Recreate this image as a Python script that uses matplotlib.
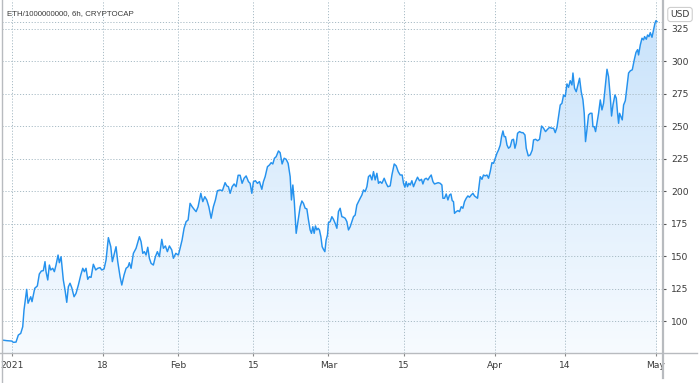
import numpy as np
import pandas as pd
import matplotlib
matplotlib.use("Agg")
import matplotlib.pyplot as plt
import matplotlib.dates as mdates
from matplotlib.colors import LinearSegmentedColormap
from matplotlib.lines import Line2D

# ---------------- data ----------------
title = "ETH/1000000000, 6h, CRYPTOCAP"
currency = "USD"
start_date = "2021-01-01"

day_offsets = [
    -1.86, -0.93, 0.00, 0.30, 0.80, 1.23, 1.68, 2.05, 2.29, 2.79, 3.04, 3.54, 3.78, 4.29, 4.77, 5.14,
    5.52, 5.89, 6.20, 6.39, 6.71, 7.01, 7.27, 7.64, 7.94, 8.25, 8.63, 8.87, 9.19, 9.61, 9.93, 10.25,
    10.55, 10.86, 11.18, 11.61, 11.98, 12.41, 12.86, 13.23, 13.53, 13.84, 14.16, 14.46, 14.78, 15.20,
    15.65, 16.02, 16.45, 16.77, 17.20, 17.57, 18.00, 18.45, 18.74, 19.12, 19.43, 19.75, 20.18, 20.50,
    20.92, 21.30, 21.67, 21.91, 22.23, 22.66, 23.16, 23.78,
    24.09, 24.41, 24.71, 25.02, 25.34, 25.64, 25.96, 26.38, 26.76, 27.13, 27.50, 27.95, 28.25, 28.62,
    28.99, 29.37, 29.81, 30.11, 30.56, 31.04, 31.36, 31.73, 32.10, 32.48, 32.85, 33.22, 33.60, 33.97,
    34.34, 34.71, 35.22, 35.59, 35.96, 36.33, 36.71, 37.14, 37.56, 37.94, 38.31, 38.81, 39.24, 39.74,
    40.06, 40.36, 40.68, 41.05, 41.42, 41.79, 42.17, 42.54, 42.91, 43.28, 43.66, 44.09, 44.40, 44.72,
    45.02, 45.39, 45.76, 46.14, 46.58,
    46.88, 47.20, 47.63, 48.00, 48.32, 48.63, 48.93, 49.25, 49.68, 49.99, 50.36, 50.74, 51.11, 51.48,
    51.86, 52.10, 52.36, 52.61, 52.98, 53.35, 53.72, 54.04, 54.33, 54.65, 54.97, 55.27, 55.58, 55.83,
    56.08, 56.33, 56.57, 56.83, 57.07, 57.31, 57.58, 57.82, 58.06, 58.32, 58.56, 58.81, 58.99, 59.31,
    59.63, 59.92, 60.24, 60.56, 60.85, 61.17, 61.49, 61.79, 62.10, 62.42, 62.72, 63.04, 63.35, 63.65,
    63.97, 64.28, 64.58, 64.90, 65.22, 65.52, 65.83, 66.15, 66.44, 66.76, 67.08, 67.38, 67.69, 68.01,
    68.31, 68.62, 68.94, 69.37, 69.74, 70.06,
    70.49, 70.81, 71.24, 71.61, 71.98, 72.35, 72.72, 72.97, 73.23, 73.47, 73.71, 73.97, 74.22, 74.53,
    74.83, 75.20, 75.58, 75.95, 76.32, 76.58, 76.88, 77.20, 77.52, 77.81, 78.13, 78.45, 78.74, 79.06,
    79.43, 79.80, 80.12, 80.31, 80.61, 80.92, 81.24, 81.54, 81.80, 82.04, 82.28, 82.47, 82.79, 83.10,
    83.40, 83.72, 84.03, 84.33, 84.65, 84.96, 85.26, 85.58, 85.90, 86.19, 86.51, 86.76, 87.02, 87.26,
    87.58, 87.87, 88.19, 88.51, 88.81, 89.12, 89.44, 89.74, 90.05, 90.37, 90.67, 90.99, 91.23, 91.49,
    91.73, 91.97, 92.24, 92.53, 92.85, 93.17, 93.46, 93.72, 93.97, 94.21, 94.58, 94.96,
    95.22, 95.59, 95.83, 96.21, 96.58, 96.95, 97.19, 97.57, 97.94, 98.31, 98.68, 99.05, 99.42, 99.80,
    100.17, 100.54, 100.92, 101.23, 101.55, 101.85, 102.16, 102.48, 102.78, 103.09, 103.41, 103.71,
    104.02, 104.34, 104.53, 104.82, 105.14, 105.46, 105.76, 106.07, 106.39, 106.63, 106.87, 107.13,
    107.43, 107.75, 108.07, 108.25, 108.50, 108.74, 109.00, 109.30, 109.62, 109.93, 110.23, 110.55,
    110.87, 111.16, 111.48, 111.72, 111.98, 112.35, 112.60, 112.84, 113.03, 113.21, 113.47, 113.71,
    113.96, 114.28, 114.59, 114.89, 115.21, 115.58, 115.95, 116.27, 116.57, 116.75, 117.07, 117.39,
    117.68, 117.87, 118.19, 118.43, 118.69, 118.93, 119.25, 119.54, 119.80, 119.99, 120.18,
]

values = [
    85.6, 85.1, 84.8, 83.8, 84.0, 89.4, 90.7, 95.8, 108.7, 124.6, 113.9, 118.9, 115.1, 125.4, 127.2, 136.4,
    138.7, 139.0, 145.9, 138.2, 131.8, 143.3, 139.5, 140.8, 138.2, 143.3, 151.0, 145.1, 149.7, 131.8, 124.1, 114.6,
    126.6, 129.3, 125.9, 118.9, 121.5, 127.9, 135.6, 140.8, 138.2, 140.8, 132.3, 134.3, 133.8, 143.9,
    139.5, 140.8, 141.3, 139.5, 140.3, 147.2, 164.4, 157.4, 145.9, 152.3, 157.4, 145.9, 134.3, 127.9,
    135.6, 140.8, 142.0, 145.1, 140.8, 152.3, 156.2, 165.1,
    161.3, 152.3, 153.6, 151.0, 157.0, 148.5, 144.6, 143.3, 149.7, 153.6, 149.7, 163.1, 156.2, 158.0,
    153.6, 158.0, 154.9, 148.5, 152.3, 151.0, 156.2, 162.6, 171.6, 176.7, 178.0, 190.8, 188.2, 186.2,
    184.4, 188.2, 198.5, 192.1, 195.9, 193.4, 188.2, 179.3, 188.2, 193.4, 200.5, 201.1, 200.5, 206.7,
    204.2, 203.6, 198.5, 203.6, 205.7, 203.6, 212.4, 212.4, 206.2, 210.1, 211.9, 207.5, 206.2, 198.5,
    207.5, 208.2, 206.2, 207.5, 201.6,
    207.5, 211.3, 219.0, 220.3, 222.1, 221.1, 225.5, 226.7, 231.1, 229.8, 221.1, 225.5, 224.7, 221.6,
    211.3, 193.4, 204.9, 193.4, 167.7, 178.0, 188.2, 192.6, 190.8, 187.0, 186.5, 178.0, 170.3, 167.7,
    172.8, 167.7, 173.4, 170.3, 171.6, 170.3, 165.1, 157.4, 155.4, 153.6, 162.6, 166.4, 175.9, 176.7,
    180.5, 178.5, 175.4, 171.6, 184.4, 187.0, 180.5, 180.1, 179.3, 176.7, 170.3, 172.8, 176.7, 180.5,
    181.8, 189.5, 192.1, 194.7, 197.2, 201.1, 199.8, 203.6, 211.3, 212.6, 208.8, 215.2, 208.8, 213.9,
    206.2, 207.5, 206.2, 210.1, 206.2, 203.6,
    204.2, 212.6, 221.1, 219.6, 215.2, 212.6, 212.6, 206.2, 203.2, 207.5, 203.6, 206.2, 204.9, 208.2,
    203.6, 207.5, 210.9, 208.2, 209.3, 205.7, 209.3, 210.1, 208.8, 210.9, 212.6, 207.5, 205.7, 206.2,
    206.7, 206.2, 204.9, 194.7, 194.7, 198.0, 193.4, 197.2, 198.0, 192.9, 192.1, 183.1, 184.4, 185.2,
    184.4, 188.2, 187.0, 192.1, 194.7, 196.5, 195.5, 197.2, 198.5, 196.5, 195.5, 194.7, 203.6, 211.3,
    209.3, 212.6, 211.9, 212.6, 210.1, 215.2, 222.1, 221.6, 225.5, 229.3, 231.9, 235.7, 242.1, 246.5,
    242.1, 242.1, 235.7, 233.2, 234.4, 239.6, 240.1, 233.2, 237.0, 244.7, 246.0, 245.2,
    245.2, 243.4, 233.2, 227.3, 228.1, 231.9, 239.6, 240.1, 239.0, 240.1, 250.3, 248.6, 246.0, 247.8,
    249.3, 248.6, 248.6, 245.2, 249.3, 257.5, 266.5, 267.8, 274.2, 272.9, 282.7, 280.1,
    285.2, 281.9, 291.1, 279.4, 276.7, 281.9, 287.1, 276.7, 270.4, 260.1, 238.3, 247.3,
    258.8, 260.1, 260.1, 249.8, 249.8, 246.0, 252.4, 260.1, 270.4, 262.7, 267.8, 280.7,
    294.0, 288.3, 272.9, 258.0, 266.5, 274.2, 271.7, 260.1, 252.4, 260.1, 257.5, 255.0,
    266.5, 269.8, 280.7, 291.1, 292.8, 293.6, 301.3, 307.0, 309.1, 305.0, 312.7, 317.9,
    316.6, 319.1, 317.1, 320.4, 319.1, 322.2, 318.6, 324.2, 329.4, 331.4, 330.6,
]

tick_dates = ["2021-01-01", "2021-01-18", "2021-02-01", "2021-02-15", "2021-03-01",
              "2021-03-15", "2021-04-01", "2021-04-14", "2021-05-01"]
tick_labels = ["2021", "18", "Feb", "15", "Mar", "15", "Apr", "14", "May"]
y_ticks = [100, 125, 150, 175, 200, 225, 250, 275, 300, 325]

# ---------------- style ----------------
LINE = "#2592ee"
GRID = "#a9bcc6"
TXT = "#3a3a3a"
FRAME = "#b8bbbf"

t0 = mdates.date2num(pd.Timestamp(start_date))
x = t0 + np.array(day_offsets)
y = np.array(values)
xt = [mdates.date2num(pd.Timestamp(d)) for d in tick_dates]

W, H = 700, 383
fig = plt.figure(figsize=(W / 100, H / 100), dpi=100)
ax = fig.add_axes([2 / W, 30 / H, 661 / W, 353 / H])

x0, x1 = t0 - 1.81, t0 + 121.3
y0, y1 = 75.6, 347.3
ax.set_xlim(x0, x1)
ax.set_ylim(y0, y1)

# gradient area
cmap = LinearSegmentedColormap.from_list("area", ["#f7fbff", "#c9e3fb"])
grad = np.linspace(0, 1, 256).reshape(-1, 1)
im = ax.imshow(grad, extent=[x0, x1, y0, y.max()], origin="lower", aspect="auto",
               cmap=cmap, zorder=1, interpolation="bilinear")
poly = ax.fill_between(x, y, y0, facecolor="none", edgecolor="none")
im.set_clip_path(poly.get_paths()[0], transform=ax.transData)

# grid
for v in y_ticks:
    ax.axhline(v, color=GRID, lw=0.7, ls=(0, (1.2, 1.8)), zorder=2)
for v in xt:
    ax.axvline(v, color=GRID, lw=0.7, ls=(0, (1.2, 1.8)), zorder=2)
# last price line
ax.axhline(y[-1], color=GRID, lw=0.7, ls=(0, (1.2, 1.8)), zorder=2)

ax.plot(x, y, color=LINE, lw=1.05, zorder=3, solid_joinstyle="round")

# axes / ticks
for s in ax.spines.values():
    s.set_visible(False)
ax.yaxis.tick_right()
ax.set_yticks(y_ticks)
ax.set_yticklabels([str(v) for v in y_ticks])
ax.set_xticks(xt)
ax.set_xticklabels(tick_labels)
ax.tick_params(axis="y", length=2.5, width=0.8, color="#555555", pad=3.5,
               labelsize=6.6, labelcolor=TXT)
ax.tick_params(axis="x", length=2.2, width=0.8, color="#888888", pad=3.8,
               labelsize=6.6, labelcolor=TXT)
for lab in ax.get_yticklabels():
    lab.set_horizontalalignment("left")

# frame lines in figure pixels
def fx(px):
    return px / W

def fy(py):
    return 1 - py / H

fig.add_artist(Line2D([fx(0), fx(697)], [fy(353), fy(353)], color=FRAME, lw=1.0))
fig.add_artist(Line2D([fx(663), fx(663)], [fy(0), fy(378)], color=FRAME, lw=1.6))
fig.add_artist(Line2D([fx(1.7), fx(1.7)], [fy(0), fy(383)], color=FRAME, lw=1.0))

# texts
fig.text(fx(7), fy(14), title, fontsize=5.7, color=TXT, ha="left", va="center",
         family="Liberation Sans")
fig.text(fx(680), fy(14.5), currency, fontsize=6.6, color=TXT, ha="center", va="center",
         bbox=dict(boxstyle="round,pad=0.28,rounding_size=0.3", fc="white", ec="#cfcfcf", lw=0.8))

fig.savefig("out.png", dpi=100)
